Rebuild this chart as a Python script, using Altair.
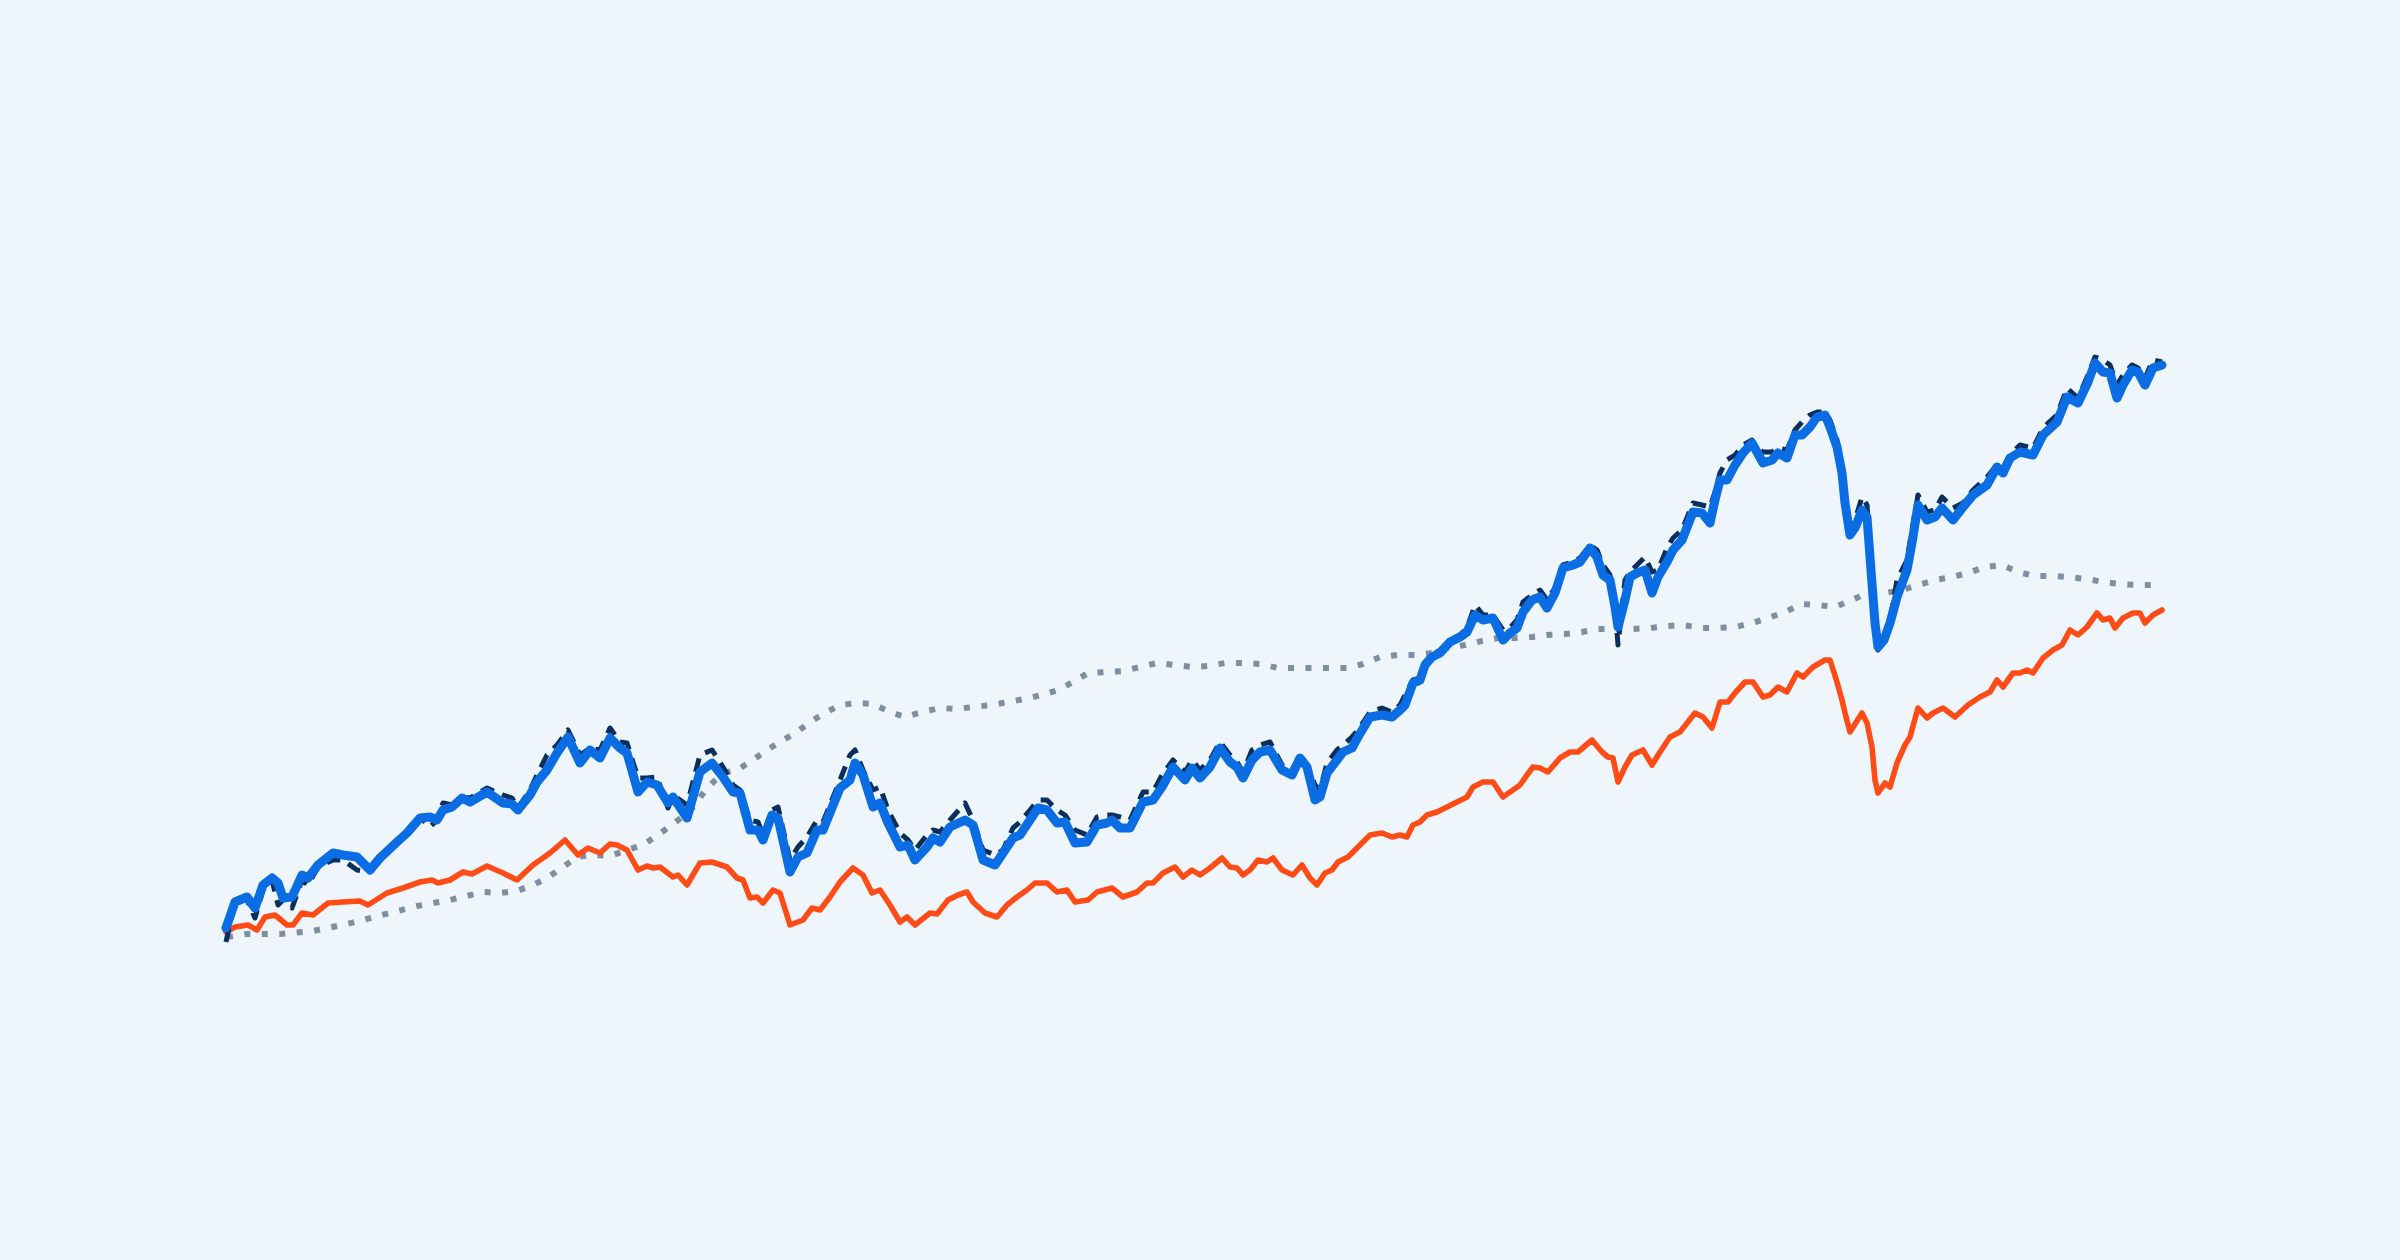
import altair as alt
import pandas as pd
from altair.utils import html as _alt_html

# ---- data (time step index, index level) ----
t_main = [0, 9, 21, 29, 37, 46, 52, 57, 66, 76, 82, 92, 107, 117, 131, 144, 154, 171, 181, 194,
          204, 211, 217, 226, 236, 244, 261, 277, 286, 292, 304, 311, 321, 331, 342, 354, 364, 374, 384, 394,
          401, 412, 421, 431, 442, 447, 461, 474, 486, 497, 507, 514, 524, 532, 537, 546, 552, 564, 572, 581,
          591, 597, 614, 624, 629, 637, 647, 654, 662, 674, 682, 689, 701, 707, 714, 724, 739, 747, 757, 769,
          777, 787, 794, 804, 812, 821, 831, 839, 849, 861, 871, 881, 886, 894, 904, 917, 927, 936, 947, 959,
          966, 974, 984, 994, 1004, 1011, 1017, 1026, 1034, 1044, 1056, 1066, 1074, 1081, 1089, 1094, 1101, 1111, 1117, 1126,
          1132, 1144, 1156, 1166, 1174, 1179, 1187, 1194, 1199, 1206, 1214, 1224, 1234, 1241, 1249, 1257, 1267, 1277, 1284, 1291,
          1297, 1306, 1314, 1321, 1329, 1337, 1347, 1354, 1364, 1371, 1377, 1384, 1389, 1392, 1399, 1404, 1411, 1419, 1426, 1432,
          1441, 1447, 1456, 1467, 1476, 1484, 1489, 1494, 1501, 1509, 1517, 1526, 1531, 1537, 1546, 1552, 1561, 1569, 1576, 1584,
          1591, 1599, 1604, 1611, 1616, 1619, 1624, 1629, 1636, 1641, 1644, 1649, 1652, 1658, 1664, 1671, 1681, 1686, 1692, 1701,
          1709, 1716, 1727, 1737, 1747, 1761, 1771, 1777, 1784, 1794, 1807, 1817, 1831, 1841, 1852, 1862, 1869, 1877, 1884, 1891,
          1897, 1906, 1912, 1919, 1927, 1936]

v_blue = [72, 98, 103, 92, 115, 122, 117, 102, 103, 125, 122, 135, 147, 145, 143, 130, 142, 158, 167, 182,
          183, 180, 190, 193, 202, 198, 208, 197, 196, 190, 205, 218, 230, 247, 263, 237, 250, 242, 262, 252,
          247, 208, 218, 215, 197, 203, 182, 228, 237, 223, 208, 207, 170, 170, 160, 185, 182, 128, 143, 147,
          170, 170, 212, 220, 237, 225, 193, 197, 177, 153, 155, 140, 153, 162, 158, 173, 180, 175, 140, 135,
          147, 162, 165, 180, 192, 190, 177, 178, 157, 158, 175, 177, 180, 172, 172, 198, 200, 213, 233, 220,
          232, 222, 233, 252, 238, 233, 222, 240, 248, 250, 230, 225, 242, 233, 200, 203, 227, 240, 248, 252,
          263, 283, 285, 283, 290, 295, 317, 320, 335, 343, 347, 358, 363, 368, 385, 380, 382, 360, 367, 372,
          388, 400, 403, 392, 407, 432, 435, 438, 452, 443, 425, 420, 393, 373, 400, 423, 427, 430, 407, 423,
          438, 450, 460, 488, 487, 477, 500, 520, 520, 535, 547, 557, 548, 537, 540, 547, 542, 565, 565, 573,
          583, 585, 573, 553, 527, 497, 465, 472, 490, 483, 443, 377, 353, 360, 377, 403, 430, 457, 495, 480,
          483, 492, 480, 493, 505, 515, 533, 527, 542, 548, 545, 565, 578, 603, 597, 618, 637, 628, 627, 602,
          615, 630, 628, 615, 632, 635]

v_navy = [58, 100, 100, 82, 110, 120, 95, 100, 92, 120, 115, 133, 140, 140, 130, 128, 142, 158, 167, 183,
          173, 180, 197, 195, 203, 202, 212, 205, 202, 192, 210, 225, 245, 255, 270, 245, 252, 250, 272, 258,
          257, 222, 222, 223, 192, 205, 195, 245, 250, 233, 215, 210, 180, 178, 165, 190, 193, 140, 153, 163,
          180, 178, 220, 245, 250, 230, 210, 213, 190, 167, 160, 150, 165, 170, 168, 180, 197, 180, 150, 145,
          150, 172, 178, 190, 200, 200, 190, 185, 170, 165, 183, 185, 185, 183, 180, 208, 208, 225, 240, 228,
          240, 230, 240, 258, 245, 238, 228, 250, 255, 258, 235, 230, 245, 235, 215, 210, 237, 250, 255, 263,
          270, 288, 292, 288, 295, 305, 320, 322, 338, 345, 350, 360, 365, 372, 395, 385, 385, 370, 372, 380,
          398, 405, 410, 400, 412, 435, 438, 442, 455, 450, 435, 425, 395, 355, 420, 428, 435, 443, 428, 430,
          452, 462, 470, 497, 495, 493, 508, 527, 540, 545, 555, 560, 552, 548, 548, 552, 550, 570, 578, 585,
          588, 588, 580, 560, 530, 505, 468, 480, 503, 495, 450, 385, 350, 365, 380, 420, 440, 470, 505, 488,
          490, 503, 492, 497, 510, 523, 535, 532, 545, 555, 552, 572, 585, 612, 602, 625, 643, 640, 635, 615,
          625, 635, 632, 622, 640, 638]

t_orange = [0, 9, 22, 31, 39, 49, 61, 67, 76, 87, 102, 117, 134, 142, 161, 177, 194, 206, 212, 224,
            237, 246, 261, 277, 291, 307, 317, 324, 339, 352, 362, 374, 384, 391, 401, 412, 421, 427, 434, 447,
            452, 461, 474, 486, 501, 511, 517, 524, 531, 537, 547, 554, 564, 577, 586, 594, 604, 614, 627, 637,
            646, 654, 664, 674, 681, 689, 704, 711, 722, 732, 741, 747, 759, 771, 781, 791, 801, 809, 821, 831,
            841, 849, 862, 871, 886, 897, 911, 921, 927, 937, 949, 957, 966, 974, 984, 996, 1004, 1011, 1017, 1024,
            1032, 1041, 1047, 1056, 1067, 1076, 1084, 1091, 1099, 1106, 1112, 1122, 1134, 1144, 1156, 1166, 1174, 1181, 1187, 1194,
            1201, 1211, 1221, 1231, 1241, 1247, 1257, 1267, 1277, 1287, 1294, 1301, 1307, 1314, 1322, 1334, 1344, 1352, 1366, 1376,
            1382, 1387, 1392, 1399, 1406, 1417, 1426, 1434, 1444, 1454, 1469, 1477, 1486, 1494, 1502, 1509, 1519, 1527, 1537, 1544,
            1552, 1561, 1571, 1577, 1587, 1599, 1604, 1611, 1616, 1619, 1624, 1636, 1641, 1646, 1649, 1652, 1659, 1664, 1671, 1679,
            1684, 1692, 1701, 1707, 1717, 1729, 1742, 1754, 1764, 1771, 1777, 1787, 1794, 1801, 1807, 1817, 1827, 1836, 1844, 1852,
            1861, 1871, 1877, 1884, 1889, 1897, 1907, 1914, 1919, 1927, 1936]

v_orange = [68, 73, 75, 70, 83, 85, 75, 75, 87, 85, 97, 98, 99, 95, 107, 112, 118, 120, 117, 120,
            128, 126, 134, 127, 120, 135, 142, 147, 160, 145, 152, 147, 156, 155, 150, 130, 134, 132, 133, 123,
            125, 115, 137, 138, 133, 122, 120, 102, 103, 97, 110, 107, 75, 80, 92, 90, 103, 118, 132, 125,
            107, 110, 95, 78, 83, 75, 87, 86, 100, 105, 108, 98, 87, 83, 95, 103, 110, 117, 117, 108,
            110, 98, 100, 108, 112, 103, 108, 117, 117, 127, 133, 123, 130, 125, 132, 142, 133, 132, 125, 130,
            140, 138, 142, 130, 125, 135, 122, 115, 127, 130, 138, 143, 155, 165, 167, 163, 165, 163, 175, 178,
            185, 188, 193, 198, 203, 213, 218, 218, 203, 210, 215, 225, 233, 232, 228, 242, 248, 248, 260, 248,
            243, 242, 218, 233, 245, 250, 235, 248, 263, 268, 287, 283, 272, 298, 298, 307, 318, 318, 303, 305,
            313, 308, 327, 323, 333, 340, 340, 318, 300, 287, 268, 287, 277, 253, 220, 207, 217, 213, 237, 255,
            263, 292, 282, 287, 292, 283, 295, 303, 308, 320, 313, 327, 327, 330, 327, 342, 350, 355, 370, 365,
            373, 387, 380, 382, 372, 382, 387, 387, 377, 385, 390]

t_gray = [1, 21, 54, 87, 121, 156, 191, 224, 257, 274, 291, 309, 321, 337, 351, 367, 384, 401, 417, 432,
          447, 464, 481, 497, 511, 527, 541, 554, 571, 584, 599, 614, 631, 647, 664, 679, 696, 714, 731, 747,
          766, 782, 799, 816, 832, 847, 862, 881, 897, 914, 931, 949, 966, 982, 999, 1017, 1034, 1052, 1069, 1087,
          1104, 1121, 1137, 1154, 1171, 1189, 1206, 1222, 1239, 1256, 1272, 1289, 1306, 1321, 1339, 1356, 1372, 1389, 1407, 1424,
          1441, 1457, 1476, 1492, 1509, 1526, 1542, 1559, 1576, 1592, 1609, 1626, 1641, 1659, 1676, 1692, 1709, 1726, 1742, 1759,
          1776, 1792, 1809, 1826, 1842, 1861, 1877, 1894, 1912, 1931]

v_gray = [63, 66, 66, 69, 76, 85, 94, 100, 108, 107, 109, 116, 122, 133, 143, 145, 144, 150, 155, 165,
          176, 189, 212, 227, 230, 240, 250, 258, 268, 278, 287, 295, 297, 296, 288, 283, 288, 292, 291, 293,
          295, 298, 301, 305, 310, 318, 327, 328, 329, 333, 337, 335, 333, 334, 337, 337, 336, 332, 332, 332,
          332, 332, 336, 343, 345, 345, 347, 352, 355, 359, 362, 362, 363, 365, 366, 368, 371, 371, 371, 372,
          374, 375, 372, 372, 373, 377, 382, 388, 396, 395, 393, 400, 407, 407, 410, 415, 420, 423, 427, 433,
          435, 428, 424, 424, 423, 421, 418, 416, 415, 415]

# ---- chart ----
BG = "#EEF6FC"
W, H = 2376, 1230
x_scale = alt.Scale(domain=[-218, W - 218], nice=False, zero=False)
y_scale = alt.Scale(domain=[992 - H, 992], nice=False, zero=False)

def line(t, v, color, width, dash=None, cap="round"):
    df = pd.DataFrame({"t": t, "v": v})
    kw = dict(color=color, strokeWidth=width, strokeCap=cap, strokeJoin="round", clip=False)
    if dash is not None:
        kw["strokeDash"] = dash
    return alt.Chart(df).mark_line(**kw).encode(
        x=alt.X("t:Q", scale=x_scale, axis=None),
        y=alt.Y("v:Q", scale=y_scale, axis=None),
    )

gray = line(t_gray, v_gray, "#7F8EA0", 6, dash=[6, 11.5], cap="butt")
orange = line(t_orange, v_orange, "#FF4C17", 5.6)
navy = line(t_main, v_navy, "#0B2E5C", 5, dash=[14, 9], cap="butt")
blue = line(t_main, v_blue, "#0A6DE3", 9)

chart = alt.layer(gray, orange, navy, blue).properties(
    width=W, height=H, padding=0, background=BG
).configure_view(stroke=None)

# page background matches the chart background (so the 8px page margin is not white)
try:
    _std_tpl = _alt_html.TEMPLATES["standard"]
    _orig_render = _std_tpl.render

    def _render_with_bg(*args, **kwargs):
        out = _orig_render(*args, **kwargs)
        return out.replace("<head>", "<head>\n<style>html, body { background: %s; }</style>" % BG, 1)

    _std_tpl.render = _render_with_bg
except Exception:
    pass

chart.save("out.html", embed_options={"renderer": "svg", "actions": False})
